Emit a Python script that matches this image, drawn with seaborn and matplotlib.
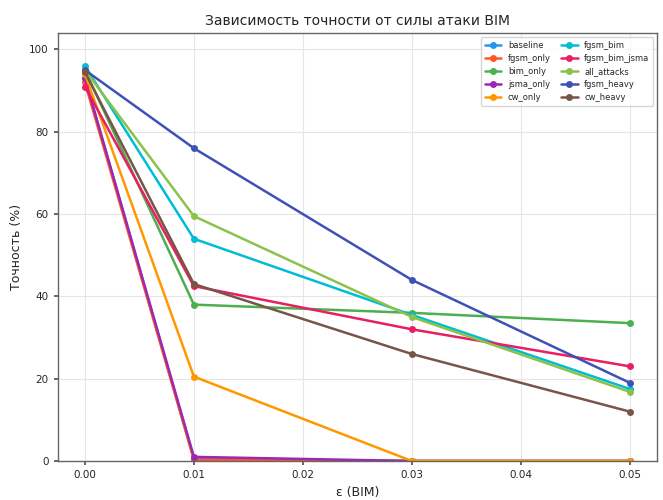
import matplotlib
matplotlib.use("Agg")
import matplotlib.pyplot as plt
import seaborn as sns
import pandas as pd

eps = [0.00, 0.01, 0.03, 0.05]
series_names = ["baseline", "fgsm_only", "bim_only", "jsma_only", "cw_only",
                "fgsm_bim", "fgsm_bim_jsma", "all_attacks", "fgsm_heavy", "cw_heavy"]
baseline = [93.0, 0.5, 0.0, 0.0]
fgsm_only = [92.0, 0.3, 0.0, 0.0]
bim_only = [95.0, 38.0, 36.0, 33.5]
jsma_only = [93.0, 1.0, 0.0, 0.0]
cw_only = [94.0, 20.5, 0.0, 0.0]
fgsm_bim = [96.0, 54.0, 35.5, 17.5]
fgsm_bim_jsma = [91.0, 42.5, 32.0, 23.0]
all_attacks = [95.0, 59.5, 35.0, 16.8]
fgsm_heavy = [95.0, 76.0, 44.0, 19.0]
cw_heavy = [94.5, 43.0, 26.0, 12.0]
values = [baseline, fgsm_only, bim_only, jsma_only, cw_only,
          fgsm_bim, fgsm_bim_jsma, all_attacks, fgsm_heavy, cw_heavy]
colors = ["#2196F3", "#FF5722", "#4CAF50", "#9C27B0", "#FF9800",
          "#00BCD4", "#E91E63", "#8BC34A", "#3F51B5", "#795548"]

rows = []
for name, vals in zip(series_names, values):
    for e, v in zip(eps, vals):
        rows.append({"eps": e, "acc": v, "model": name})
df = pd.DataFrame(rows)

sns.set_theme(style="whitegrid")
plt.rcParams['font.family'] = ['DejaVu Sans']

fig = plt.figure(figsize=(6.63, 5.0), dpi=100)
ax = fig.add_axes([0.087, 0.078, 0.904, 0.856])
sns.lineplot(data=df, x="eps", y="acc", hue="model", hue_order=series_names,
             palette=colors, marker="o", markersize=5, markeredgewidth=0,
             linewidth=1.8, ax=ax)

ax.set_ylim(0, 104)
ax.set_xlim(-0.0025, 0.0525)
ax.set_xticks([0.00, 0.01, 0.02, 0.03, 0.04, 0.05])
ax.set_xticklabels(["0.00", "0.01", "0.02", "0.03", "0.04", "0.05"])
ax.set_yticks([0, 20, 40, 60, 80, 100])
ax.tick_params(labelsize=7.5, length=3, color="#555555", left=True, bottom=True)
ax.set_xlabel("ε (BIM)", fontsize=9)
ax.set_ylabel("Точность (%)", fontsize=9)
ax.set_title("Зависимость точности от силы атаки BIM", fontsize=10)
for s in ax.spines.values():
    s.set_color("#666666")
    s.set_linewidth(1.0)
ax.grid(color="#e6e6e6", linewidth=0.8)

leg = ax.legend(ncol=2, fontsize=6, loc="upper right", frameon=True,
                handlelength=2, columnspacing=1.2, labelspacing=0.5)
leg.get_frame().set_edgecolor("#cccccc")

fig.savefig("out.png", dpi=100)
